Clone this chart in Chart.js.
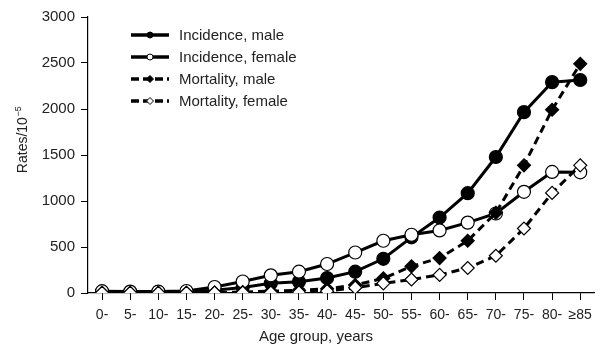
<!DOCTYPE html>
<html lang="en">
<head>
  <meta charset="UTF-8">
  <title>Incidence and mortality by age group</title>
  <script src="https://cdn.jsdelivr.net/npm/chart.js"></script>
  <style>
    body {
      margin: 0;
      background-color: #ffffff;
    }
    .chart-box {
      position: relative;
      width: 602px;
      height: 346px;
    }
  </style>
</head>
<body>
  <div class="chart-box">
    <canvas id="rateChart" width="602" height="346"></canvas>
  </div>

  <script>
    // Age groups on the x axis
    const ageGroups = ['0-', '5-', '10-', '15-', '20-', '25-', '30-', '35-', '40-', '45-',
                       '50-', '55-', '60-', '65-', '70-', '75-', '80-', '\u226585'];

    // Rates per 10^5
    const incidenceMale   = [8, 5, 6, 10, 30, 60, 105, 122, 163, 232, 372, 605, 820, 1085, 1478, 1966, 2292, 2315];
    const incidenceFemale = [20, 15, 16, 22, 65, 125, 192, 232, 315, 440, 568, 633, 680, 765, 864, 1100, 1316, 1312];
    const mortalityMale   = [2, 1, 1, 2, 5, 10, 20, 30, 45, 87, 159, 290, 380, 568, 871, 1388, 1992, 2491];
    const mortalityFemale = [3, 2, 2, 3, 4, 5, 5, 8, 20, 58, 105, 147, 197, 272, 405, 701, 1088, 1388];

    const yTicks = [0, 500, 1000, 1500, 2000, 2500, 3000];

    const fontFamily = "'Liberation Sans', Arial, sans-serif";
    const textColor = '#222';

    function makeSeries(label, values, filled, style, dashed, order) {
      return {
        label: label,
        data: values,
        borderColor: '#000',
        borderWidth: 3,
        borderDash: dashed ? [8, 5] : [],
        tension: 0,
        fill: false,
        pointStyle: style,
        pointRadius: 6.5,
        pointHoverRadius: 6.5,
        pointBackgroundColor: filled ? '#000' : '#fff',
        pointBorderColor: '#000',
        pointBorderWidth: 1.2,
        order: order
      };
    }

    // Legend and axis titles drawn by hand so they sit where the figure has them
    const figureText = {
      id: 'figureText',
      afterDraw(chart) {
        const ctx = chart.ctx;
        ctx.save();

        chart.data.datasets.forEach((ds, i) => {
          const y = 35 + i * 22;
          ctx.strokeStyle = '#000';
          ctx.lineWidth = 3.5;
          ctx.setLineDash(ds.borderDash.length ? [8, 4] : []);
          ctx.beginPath();
          ctx.moveTo(131, y);
          ctx.lineTo(169, y);
          ctx.stroke();
          ctx.setLineDash([]);

          ctx.fillStyle = ds.pointBackgroundColor;
          ctx.lineWidth = 1;
          ctx.beginPath();
          if (ds.pointStyle === 'circle') {
            ctx.arc(150, y, 3, 0, Math.PI * 2);
          } else {
            ctx.moveTo(150, y - 3.5);
            ctx.lineTo(153.5, y);
            ctx.lineTo(150, y + 3.5);
            ctx.lineTo(146.5, y);
            ctx.closePath();
          }
          ctx.fill();
          ctx.stroke();

          ctx.fillStyle = textColor;
          ctx.font = '15px ' + fontFamily;
          ctx.textAlign = 'left';
          ctx.textBaseline = 'middle';
          ctx.fillText(ds.label, 179, y + 1);
        });

        // x axis title
        ctx.fillStyle = textColor;
        ctx.font = '15px ' + fontFamily;
        ctx.textAlign = 'center';
        ctx.textBaseline = 'alphabetic';
        ctx.fillText('Age group, years', 316, 341);

        // y axis title with superscript
        ctx.translate(27, 140);
        ctx.rotate(-Math.PI / 2);
        ctx.font = '14px ' + fontFamily;
        const main = 'Rates/10';
        const sup = '\u22125';
        const wMain = ctx.measureText(main).width;
        ctx.font = '9px ' + fontFamily;
        const wSup = ctx.measureText(sup).width;
        const start = -(wMain + wSup) / 2;
        ctx.textAlign = 'left';
        ctx.font = '14px ' + fontFamily;
        ctx.fillText(main, start, 0);
        ctx.font = '9px ' + fontFamily;
        ctx.fillText(sup, start + wMain + 0.5, -6);

        ctx.restore();
      }
    };

    new Chart(document.getElementById('rateChart').getContext('2d'), {
      type: 'line',
      data: {
        labels: ageGroups,
        datasets: [
          makeSeries('Incidence, male', incidenceMale, true, 'circle', false, 4),
          makeSeries('Incidence, female', incidenceFemale, false, 'circle', false, 3),
          makeSeries('Mortality, male', mortalityMale, true, 'rectRot', true, 2),
          makeSeries('Mortality, female', mortalityFemale, false, 'rectRot', true, 1)
        ]
      },
      options: {
        responsive: false,
        animation: false,
        layout: {
          padding: { top: 17, right: 2, left: 0, bottom: 0 }
        },
        plugins: {
          legend: { display: false },
          tooltip: { enabled: false }
        },
        scales: {
          x: {
            type: 'category',
            offset: true,
            grid: {
              display: true,
              drawOnChartArea: false,
              drawTicks: true,
              tickLength: 7,
              offset: false,
              color: '#000',
              lineWidth: 1
            },
            border: { display: true, color: '#000', width: 1.2 },
            ticks: {
              autoSkip: false,
              maxRotation: 0,
              padding: 7,
              color: textColor,
              font: { family: fontFamily, size: 14 }
            },
            afterFit(scale) { scale.height = 53; }
          },
          y: {
            min: 0,
            max: 3000,
            afterBuildTicks(scale) {
              scale.ticks = yTicks.map(v => ({ value: v }));
            },
            grid: {
              display: true,
              drawOnChartArea: false,
              drawTicks: true,
              tickLength: 7,
              color: '#000',
              lineWidth: 1
            },
            border: { display: true, color: '#000', width: 1.2 },
            ticks: {
              padding: 6,
              color: textColor,
              font: { family: fontFamily, size: 15 },
              callback: value => String(value)
            },
            afterFit(scale) { scale.width = 88; }
          }
        }
      },
      plugins: [figureText]
    });
  </script>
</body>
</html>
